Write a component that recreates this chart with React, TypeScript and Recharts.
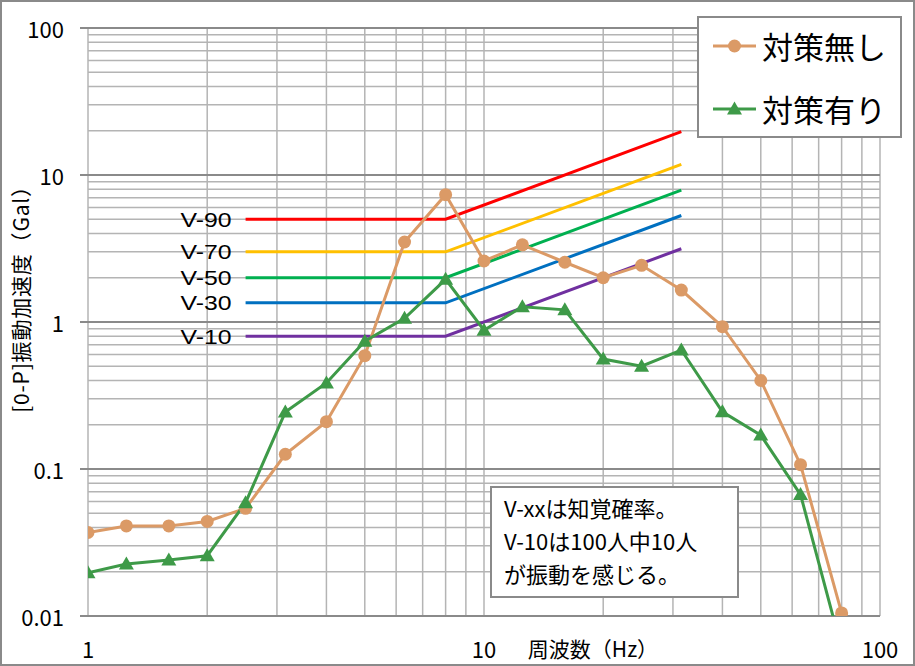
import {
  LineChart,
  Line,
  XAxis,
  YAxis,
  CartesianGrid,
  ReferenceLine,
  Legend,
  LabelList,
} from "recharts";

// 1/3 octave band centre frequencies (Hz)
const FREQ = [1, 1.25, 1.6, 2, 2.5, 3.15, 4, 5, 6.3, 8, 10, 12.5, 16, 20, 25, 31.5, 40, 50, 63, 80];
// [0-P] acceleration (Gal)
const WITHOUT = [0.037, 0.041, 0.041, 0.044, 0.054, 0.126, 0.21, 0.59, 3.5, 7.35, 2.6, 3.35, 2.55, 2.0, 2.43, 1.65, 0.93, 0.4, 0.107, 0.0105];
const WITH = [0.0197, 0.0226, 0.024, 0.0257, 0.059, 0.244, 0.385, 0.74, 1.06, 1.95, 0.88, 1.27, 1.21, 0.56, 0.5, 0.645, 0.245, 0.17, 0.067, 0.006];

// perception probability curves
const V_FREQ = [2.5, 8, 31.5];
const V_NAMES = ["V-90", "V-70", "V-50", "V-30", "V-10"];
const V_LOW = [5, 3, 2, 1.35, 0.8];
const V_HIGH = [19.7, 11.8, 7.9, 5.3, 3.15];
const V_COLORS = ["#ff0000", "#ffc000", "#00b050", "#0070c0", "#7030a0"];

const SERIES_NAMES = ["対策無し", "対策有り"];
const X_LABELS = [1, 10, 100];
const Y_LABELS = [0.01, 0.1, 1, 10, 100];
const X_TICKS = [1, 10].flatMap((d) => [1, 2, 3, 4, 5, 6, 7, 8, 9].map((k) => d * k)).concat(100);
const Y_TICKS = [0.01, 0.1, 1, 10].flatMap((d) => [1, 2, 3, 4, 5, 6, 7, 8, 9].map((k) => +(d * k).toPrecision(3))).concat(100);

const NOTE = ["V-xxは知覚確率。", "V-10は100人中10人", "が振動を感じる。"];

const ORANGE = "#db9a66";
const GREEN = "#3e9a48";
const FONT = "'Noto Sans CJK JP', 'Noto Sans', sans-serif";

const withoutData = FREQ.map((f, i) => ({ f, v: WITHOUT[i] }));
const withData = FREQ.map((f, i) => ({ f, v: WITH[i] }));
const vData = V_NAMES.map((name, i) =>
  V_FREQ.map((f, j) => ({
    f,
    v: j < 2 ? V_LOW[i] : V_HIGH[i],
    tag: j === 0 ? name : undefined,
  }))
);

function Triangle({ cx, cy }: any) {
  if (cx == null || cy == null) return null;
  return <polygon points={`${cx},${cy - 7.5} ${cx - 7.5},${cy + 5.5} ${cx + 7.5},${cy + 5.5}`} fill={GREEN} />;
}

function XTick({ x, y, payload }: any) {
  if (!X_LABELS.includes(payload.value)) return null;
  return (
    <text x={x} y={y} textAnchor="middle" dominantBaseline="central" fontSize={22} fill="#000" fontFamily={FONT}>
      {payload.value}
    </text>
  );
}

function YTick({ x, y, payload }: any) {
  if (!Y_LABELS.includes(payload.value)) return null;
  return (
    <g>
      <line x1={x + 16} x2={x + 24} y1={y} y2={y} stroke="#8a8a8a" strokeWidth={2} />
      <text x={x} y={y} textAnchor="end" dominantBaseline="central" fontSize={22} fill="#000" fontFamily={FONT}>
        {payload.value}
      </text>
    </g>
  );
}

function VTag({ x, y, value }: any) {
  if (!value) return null;
  return (
    <text
      x={x - 14}
      y={y}
      textAnchor="end"
      dominantBaseline="central"
      fontSize={21}
      textLength={51}
      lengthAdjust="spacingAndGlyphs"
      fill="#000"
      fontFamily="'Liberation Sans', Arial, sans-serif"
    >
      {value}
    </text>
  );
}

function LegendBox({ payload }: any) {
  const items = (payload || [])
    .filter((p: any) => SERIES_NAMES.includes(p.value))
    .sort((a: any, b: any) => SERIES_NAMES.indexOf(a.value) - SERIES_NAMES.indexOf(b.value));
  return (
    <div
      style={{
        width: 205,
        height: 122,
        boxSizing: "border-box",
        border: "2px solid #8a8a8a",
        background: "#fff",
        paddingLeft: 14,
        display: "flex",
        flexDirection: "column",
        gap: 8,
        fontFamily: FONT,
      }}
    >
      {items.map((p: any) => {
        const isWithout = p.value === SERIES_NAMES[0];
        const c = isWithout ? ORANGE : GREEN;
        return (
          <div key={p.value} style={{ height: 56, display: "flex", alignItems: "center", gap: 6 }}>
            <svg width={43} height={20}>
              <line x1={0} x2={43} y1={10} y2={10} stroke={c} strokeWidth={3} />
              {isWithout ? (
                <circle cx={21.5} cy={10} r={6.5} fill={c} />
              ) : (
                <polygon points="21.5,2.5 14,15.5 29,15.5" fill={c} />
              )}
            </svg>
            <span style={{ fontSize: 31, color: "#000", lineHeight: 1 }}>{p.value}</span>
          </div>
        );
      })}
    </div>
  );
}

export default function App() {
  return (
    <div style={{ position: "absolute", left: 0, top: 0, width: 915, height: 666, background: "#fff" }}>
      <LineChart width={915} height={666} margin={{ top: 28, right: 35, bottom: 10, left: 28 }}>
        <CartesianGrid stroke="#b4b4b4" strokeWidth={1.5} horizontalValues={Y_TICKS} verticalValues={X_TICKS} />
        {Y_LABELS.map((v) => (
          <ReferenceLine key={v} y={v} stroke="#8a8a8a" strokeWidth={2} />
        ))}
        <XAxis
          type="number"
          dataKey="f"
          scale="log"
          domain={[1, 100]}
          ticks={X_TICKS}
          interval={0}
          allowDataOverflow
          height={40}
          axisLine={false}
          tickLine={false}
          tickSize={0}
          tickMargin={32}
          tick={<XTick />}
          label={{
            content: ({ viewBox }: any) => (
              <text
                x={viewBox.x + viewBox.width / 2 + 109}
                y={viewBox.y + 32}
                textAnchor="middle"
                dominantBaseline="central"
                fontSize={21}
                fill="#000"
                fontFamily={FONT}
              >
                周波数（Hz）
              </text>
            ),
          }}
        />
        <YAxis
          type="number"
          dataKey="v"
          scale="log"
          domain={[0.01, 100]}
          ticks={Y_TICKS}
          interval={0}
          allowDataOverflow
          width={60}
          axisLine={false}
          tickLine={false}
          tickSize={0}
          tickMargin={24}
          tick={<YTick />}
          label={{
            content: ({ viewBox }: any) => {
              const cx = viewBox.x - 8;
              const cy = viewBox.y + viewBox.height / 2 - 28;
              return (
                <text
                  x={cx}
                  y={cy}
                  transform={`rotate(-90 ${cx} ${cy})`}
                  textAnchor="middle"
                  dominantBaseline="central"
                  fontSize={21}
                  letterSpacing={0.8}
                  fill="#000"
                  fontFamily={FONT}
                >
                  [0-P]振動加速度（Gal）
                </text>
              );
            },
          }}
        />
        {vData.map((d, i) => (
          <Line
            key={V_NAMES[i]}
            data={d}
            dataKey="v"
            name={V_NAMES[i]}
            stroke={V_COLORS[i]}
            strokeWidth={3}
            dot={false}
            legendType="none"
            isAnimationActive={false}
          >
            <LabelList dataKey="tag" content={<VTag />} />
          </Line>
        ))}
        <Line
          data={withoutData}
          dataKey="v"
          name={SERIES_NAMES[0]}
          stroke={ORANGE}
          strokeWidth={3}
          dot={{ r: 6.5, fill: ORANGE, stroke: "none" }}
          isAnimationActive={false}
        />
        <Line
          data={withData}
          dataKey="v"
          name={SERIES_NAMES[1]}
          stroke={GREEN}
          strokeWidth={3}
          dot={<Triangle />}
          isAnimationActive={false}
        />
        <Legend
          layout="horizontal"
          verticalAlign="middle"
          align="center"
          content={<LegendBox />}
          wrapperStyle={{ left: 697, top: 16, width: 205, height: 122 }}
        />
      </LineChart>
      <div
        style={{
          position: "absolute",
          left: 490,
          top: 486,
          width: 249,
          height: 112,
          boxSizing: "border-box",
          border: "2px solid #8a8a8a",
          background: "#fff",
          padding: "3px 0 0 12px",
          fontFamily: FONT,
          fontSize: 22,
          lineHeight: "33px",
          color: "#000",
          whiteSpace: "nowrap",
        }}
      >
        {NOTE.map((t) => (
          <div key={t}>{t}</div>
        ))}
      </div>
      <div
        style={{
          position: "absolute",
          inset: 0,
          border: "2px solid #8a8a8a",
          pointerEvents: "none",
        }}
      />
    </div>
  );
}
